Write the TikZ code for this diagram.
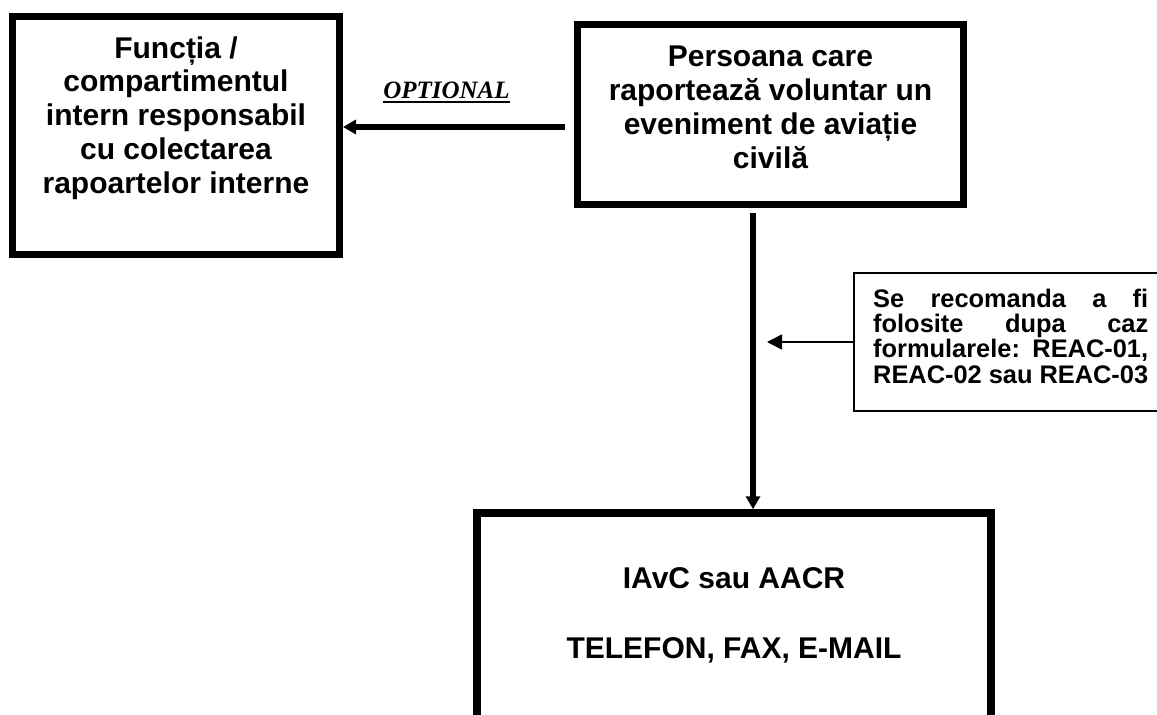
\documentclass[tikz,border=0pt]{standalone}
\usepackage{fontspec}
\setmainfont{Liberation Sans}
\newfontfamily\timesf{Liberation Serif}
\usetikzlibrary{arrows.meta,calc}
\tikzset{
  boxthick/.style={draw=black, line width=7pt, inner sep=0pt},
  boxthin/.style={draw=black, line width=1.6pt, inner sep=0pt},
  bigtext/.style={inner sep=0pt, align=center, font=\fontsize{30}{33.75}\selectfont\bfseries},
  smalltext/.style={inner sep=0pt, text width=275pt, align=justify, font=\fontsize{25.4}{25.4}\selectfont\bfseries},
  thickarrow/.style={line width=5.5pt, -{Triangle[length=13pt,width=14pt]}},
  thinarrow/.style={line width=1.6pt, -{Triangle[length=15pt,width=15pt]}},
}
\begin{document}
\begin{tikzpicture}[x=1pt,y=-1pt]
\useasboundingbox (0,0) rectangle (1157,715);
% boxes
\node[boxthick, minimum width=327pt, minimum height=238pt] (fn) at (176,135.5) {};
\node[boxthick, minimum width=386pt, minimum height=180pt] (pers) at (770.5,114.5) {};
\node[boxthick, line width=7.5pt, minimum width=514pt, minimum height=240pt] (iavc) at (734,633) {};
\node[boxthin, minimum width=316pt, minimum height=138pt] (note) at (1012,342) {};
% texts (base anchor = baseline of last line)
\node[bigtext, anchor=base] (fntext) at (176,193) {Funcția /\\compartimentul\\intern responsabil\\cu colectarea\\rapoartelor interne};
\node[bigtext, anchor=base] (perstext) at (770.5,168) {Persoana care\\raportează voluntar un\\eveniment de aviație\\civilă};
\node[bigtext, anchor=base] (iavctext) at (734,658) {IAvC sau AACR\\[36pt]TELEFON, FAX, E-MAIL};
\node[smalltext, anchor=base west] (notetext) at (873,307) {Se recomanda a fi\linebreak folosite dupa caz\linebreak formularele: REAC-01,\linebreak REAC-02 sau REAC-03};
\node[inner sep=0pt, anchor=base, font=\timesf\fontsize{25}{30}\selectfont\bfseries\itshape] (opt) at (446.5,98) {OPTIONAL};
\draw[line width=2.4pt] ($(opt.base west)+(0,4)$) -- ($(opt.base east)+(0,4)$);
% connectors
\coordinate (ay) at (0,127);
\coordinate (vx) at (753,0);
\coordinate (tipc) at (767,342);
\draw[thickarrow] ([xshift=-9pt]pers.west |- ay) -- (fn.east |- ay);
\draw[thickarrow] ([yshift=-5pt]pers.south -| vx) -- (iavc.north -| vx);
\draw[thinarrow] (note.west) -- (tipc);
\end{tikzpicture}
\end{document}
